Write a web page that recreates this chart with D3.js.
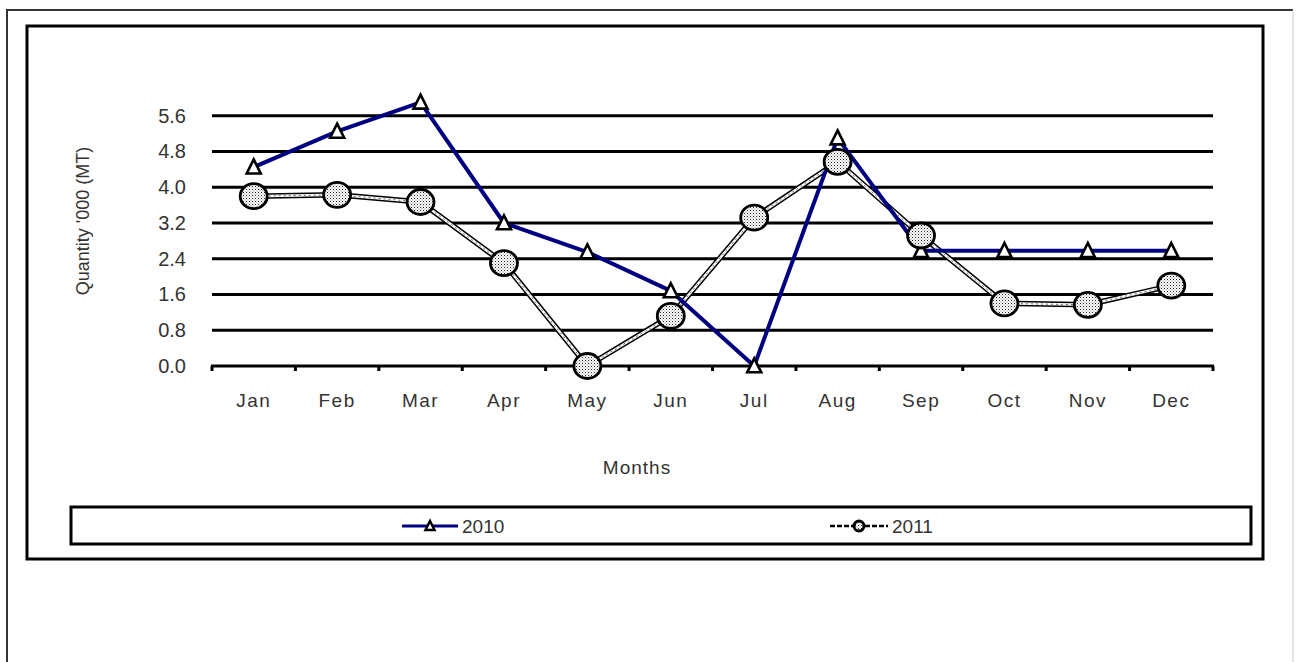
<!DOCTYPE html>
<html>
<head>
<meta charset="utf-8">
<script src="https://cdn.jsdelivr.net/npm/d3@7/dist/d3.min.js"></script>
<style>
  html, body { margin: 0; padding: 0; background: #fff; }
  svg { display: block; }
  text { font-family: "Liberation Sans", Arial, sans-serif; fill: #333; }
</style>
</head>
<body>
<svg id="chart" width="1297" height="662"></svg>
<script>
const months = ["Jan","Feb","Mar","Apr","May","Jun","Jul","Aug","Sep","Oct","Nov","Dec"];
const series2010 = [4.45, 5.25, 5.9, 3.2, 2.55, 1.68, 0, 5.1, 2.58, 2.58, 2.58, 2.58];
const series2011 = [3.8, 3.83, 3.67, 2.3, 0, 1.12, 3.32, 4.57, 2.92, 1.4, 1.37, 1.8];
const yTicks = [0.0, 0.8, 1.6, 2.4, 3.2, 4.0, 4.8, 5.6];
const seriesNames = ["2010", "2011"];
const yTitle = "Quantity '000 (MT)";
const xTitle = "Months";

const svg = d3.select("#chart");

// pattern for dithered circle markers
const defs = svg.append("defs");
const pat = defs.append("pattern").attr("id", "dither")
  .attr("width", 3).attr("height", 3).attr("patternUnits", "userSpaceOnUse");
pat.append("rect").attr("width", 3).attr("height", 3).attr("fill", "#fff");
pat.append("rect").attr("x", 0).attr("y", 0).attr("width", 1).attr("height", 1).attr("fill", "#222");
pat.append("rect").attr("x", 1.5).attr("y", 1.5).attr("width", 1).attr("height", 1).attr("fill", "#777");

// outer frame
svg.append("path").attr("d", "M7,662V10H1293").attr("fill", "none")
  .attr("stroke", "#333").attr("stroke-width", 2);
svg.append("path").attr("d", "M1293,10V662").attr("fill", "none")
  .attr("stroke", "#ccc").attr("stroke-width", 1);

// inner chart frame
svg.append("rect").attr("x", 27).attr("y", 26).attr("width", 1236).attr("height", 533)
  .attr("fill", "#fff").attr("stroke", "#000").attr("stroke-width", 3);

const x = d3.scaleBand().domain(months).range([212, 1213]);
const y = d3.scaleLinear().domain([0, 6.4]).range([366, 80]);

// gridlines
svg.append("g").selectAll("line").data(yTicks.filter(d => d > 0)).join("line")
  .attr("x1", 212).attr("x2", 1213)
  .attr("y1", d => y(d)).attr("y2", d => y(d))
  .attr("stroke", "#000").attr("stroke-width", 3);

// y axis labels
const yAxis = d3.axisLeft(y).tickValues(yTicks).tickFormat(d3.format(".1f")).tickSize(0).tickPadding(0);
const gy = svg.append("g").attr("transform", "translate(186,0)").call(yAxis);
gy.select(".domain").remove();
gy.selectAll("text").style("font-size", "20px").attr("fill", "#333")
  .style("font-family", "'Liberation Sans', Arial, sans-serif");

// x axis
const xAxis = d3.axisBottom(x).tickSize(0).tickPadding(0);
const gx = svg.append("g").attr("transform", "translate(0,366)").call(xAxis);
gx.select(".domain").remove();
gx.selectAll("text").style("font-size", "19px").attr("fill", "#333")
  .style("font-family", "'Liberation Sans', Arial, sans-serif")
  .style("letter-spacing", "1.5px")
  .attr("dy", "0").attr("y", 41);
svg.append("line").attr("x1", 211).attr("x2", 1214).attr("y1", y(0)).attr("y2", y(0))
  .attr("stroke", "#000").attr("stroke-width", 3);
const bounds = months.map(m => x(m)).concat([x.range()[1]]);
svg.append("g").selectAll("line").data(bounds).join("line")
  .attr("x1", d => d).attr("x2", d => d)
  .attr("y1", y(0)).attr("y2", y(0) + 5)
  .attr("stroke", "#000").attr("stroke-width", 3);

// titles
svg.append("text").attr("x", 637).attr("y", 474).attr("text-anchor", "middle")
  .style("font-size", "19px").style("letter-spacing", "1px").text(xTitle);
svg.append("text").attr("transform", "translate(89,221) rotate(-90)")
  .attr("text-anchor", "middle").style("font-size", "18px").text(yTitle);

const cx = m => x(m) + x.bandwidth() / 2;
const line = d3.line().x((d, i) => cx(months[i])).y(d => y(d));

// 2011 line (double line look)
svg.append("path").datum(series2011).attr("d", line).attr("fill", "none")
  .attr("stroke", "#000").attr("stroke-width", 5.5).attr("stroke-linejoin", "round");
svg.append("path").datum(series2011).attr("d", line).attr("fill", "none")
  .attr("stroke", "#fff").attr("stroke-width", 2.5).attr("stroke-linejoin", "round");
svg.append("path").datum(series2011).attr("d", line).attr("fill", "none")
  .attr("stroke", "#666").attr("stroke-width", 1).attr("stroke-dasharray", "2,3");

// 2010 line
svg.append("path").datum(series2010).attr("d", line).attr("fill", "none")
  .attr("stroke", "#000080").attr("stroke-width", 4).attr("stroke-linejoin", "round");

// 2010 triangle markers
const tri = (px, py, s) => `M${px},${py - s * 0.55}L${px + s * 0.5},${py + s * 0.45}L${px - s * 0.5},${py + s * 0.45}Z`;
svg.append("g").selectAll("path").data(series2010).join("path")
  .attr("d", (d, i) => tri(cx(months[i]), y(d), 14))
  .attr("fill", "#fff").attr("stroke", "#000").attr("stroke-width", 2.6);

// 2011 circle markers
svg.append("g").selectAll("ellipse").data(series2011).join("ellipse")
  .attr("cx", (d, i) => cx(months[i])).attr("cy", d => y(d))
  .attr("rx", 13.5).attr("ry", 12.5)
  .attr("fill", "url(#dither)").attr("stroke", "#000").attr("stroke-width", 2.8);

// legend
svg.append("rect").attr("x", 71).attr("y", 507).attr("width", 1180).attr("height", 37)
  .attr("fill", "#fff").attr("stroke", "#000").attr("stroke-width", 3);
const ly = 526;
const leg = [
  { name: seriesNames[0], x0: 402, x1: 458 },
  { name: seriesNames[1], x0: 830, x1: 888 }
];
// 2010 legend
svg.append("line").attr("x1", leg[0].x0).attr("x2", leg[0].x1).attr("y1", ly).attr("y2", ly)
  .attr("stroke", "#000080").attr("stroke-width", 3);
svg.append("path").attr("d", tri((leg[0].x0 + leg[0].x1) / 2, ly, 9))
  .attr("fill", "#fff").attr("stroke", "#000").attr("stroke-width", 2.5);
svg.append("text").attr("x", leg[0].x1 + 4).attr("y", ly + 7).style("font-size", "19px").text(leg[0].name);
// 2011 legend
svg.append("line").attr("x1", leg[1].x0).attr("x2", leg[1].x1).attr("y1", ly).attr("y2", ly)
  .attr("stroke", "#000").attr("stroke-width", 2.5).attr("stroke-dasharray", "5,2");
svg.append("circle").attr("cx", (leg[1].x0 + leg[1].x1) / 2).attr("cy", ly).attr("r", 5)
  .attr("fill", "url(#dither)").attr("stroke", "#000").attr("stroke-width", 3);
svg.append("text").attr("x", leg[1].x1 + 4).attr("y", ly + 7).style("font-size", "19px").text(leg[1].name);
</script>
</body>
</html>
